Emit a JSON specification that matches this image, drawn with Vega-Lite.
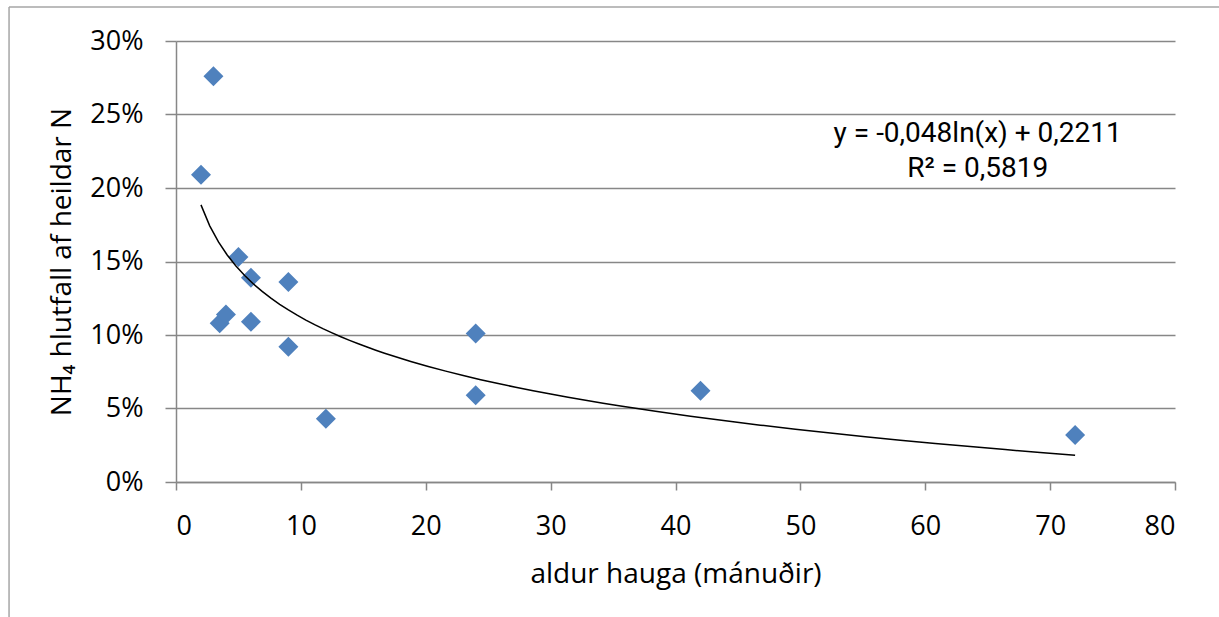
{
  "$schema": "https://vega.github.io/schema/vega-lite/v6.json",
  "width": 999,
  "height": 441,
  "autosize": {"type": "none"},
  "padding": {"left": 176, "top": 41, "right": 44, "bottom": 135},
  "background": "white",
  "config": {
    "view": {"stroke": null},
    "font": "Open Sans",
    "axis": {
      "labelFont": "Open Sans",
      "titleFont": "Open Sans",
      "labelFontSize": 27,
      "titleFontSize": 28,
      "titleFontWeight": "normal",
      "labelColor": "#000000",
      "titleColor": "#000000",
      "domainColor": "#878787",
      "tickColor": "#878787",
      "gridColor": "#878787",
      "domainWidth": 1.5,
      "tickWidth": 1.5,
      "gridWidth": 1.5
    }
  },
  "data": {
    "values": [
      {"aldur": 2, "hlutfall": 0.209},
      {"aldur": 3, "hlutfall": 0.276},
      {"aldur": 3.5, "hlutfall": 0.108},
      {"aldur": 4, "hlutfall": 0.114},
      {"aldur": 5, "hlutfall": 0.153},
      {"aldur": 6, "hlutfall": 0.139},
      {"aldur": 6, "hlutfall": 0.109},
      {"aldur": 9, "hlutfall": 0.136},
      {"aldur": 9, "hlutfall": 0.092},
      {"aldur": 12, "hlutfall": 0.043},
      {"aldur": 24, "hlutfall": 0.101},
      {"aldur": 24, "hlutfall": 0.059},
      {"aldur": 42, "hlutfall": 0.062},
      {"aldur": 72, "hlutfall": 0.032}
    ]
  },
  "layer": [
    {
      "data": {"values": [{}]},
      "mark": {"type": "rule", "color": "#a6a6a6", "strokeWidth": 1.5, "clip": false},
      "encoding": {
        "x": {"datum": -13.37, "type": "quantitative", "scale": {"domain": [0, 80], "nice": false}},
        "y": {"datum": 0.3232, "type": "quantitative", "scale": {"domain": [0, 0.3], "nice": false}},
        "y2": {"datum": -0.11}
      }
    },
    {
      "data": {"values": [{}]},
      "mark": {"type": "rule", "color": "#a6a6a6", "strokeWidth": 1.5, "clip": false},
      "encoding": {
        "x": {"datum": -13.37, "type": "quantitative"},
        "x2": {"datum": 84},
        "y": {"datum": 0.3232, "type": "quantitative"}
      }
    },
    {
      "mark": {"type": "point", "shape": "diamond", "filled": true, "size": 400, "color": "#4f81bd", "opacity": 1},
      "encoding": {
        "x": {
          "field": "aldur",
          "type": "quantitative",
          "scale": {"domain": [0, 80], "nice": false},
          "axis": {
            "values": [0, 10, 20, 30, 40, 50, 60, 70, 80],
            "grid": false,
            "tickSize": 8,
            "labelPadding": 23,
            "title": "aldur hauga (mánuðir)",
            "titlePadding": 21
          }
        },
        "y": {
          "field": "hlutfall",
          "type": "quantitative",
          "scale": {"domain": [0, 0.3], "nice": false},
          "axis": {
            "values": [0, 0.05, 0.1, 0.15, 0.2, 0.25, 0.3],
            "format": ".0%",
            "grid": true,
            "tickSize": 11,
            "labelPadding": 22,
            "title": "NH₄ hlutfall af heildar N",
            "titlePadding": 13
          }
        }
      }
    },
    {
      "transform": [
        {"regression": "hlutfall", "on": "aldur", "method": "log"}
      ],
      "mark": {"type": "line", "color": "#000000", "strokeWidth": 1.5},
      "encoding": {
        "x": {"field": "aldur", "type": "quantitative"},
        "y": {"field": "hlutfall", "type": "quantitative"}
      }
    },
    {
      "data": {"values": [{}]},
      "mark": {"type": "text", "fontSize": 28, "font": "Roboto", "color": "#000000", "align": "center", "baseline": "middle"},
      "encoding": {
        "x": {"datum": 64.2, "type": "quantitative"},
        "y": {"datum": 0.2364, "type": "quantitative"},
        "text": {"value": "y = -0,048ln(x) + 0,2211"}
      }
    },
    {
      "data": {"values": [{}]},
      "mark": {"type": "text", "fontSize": 28, "font": "Roboto", "color": "#000000", "align": "center", "baseline": "middle"},
      "encoding": {
        "x": {"datum": 64.2, "type": "quantitative"},
        "y": {"datum": 0.2126, "type": "quantitative"},
        "text": {"value": "R² = 0,5819"}
      }
    }
  ]
}
